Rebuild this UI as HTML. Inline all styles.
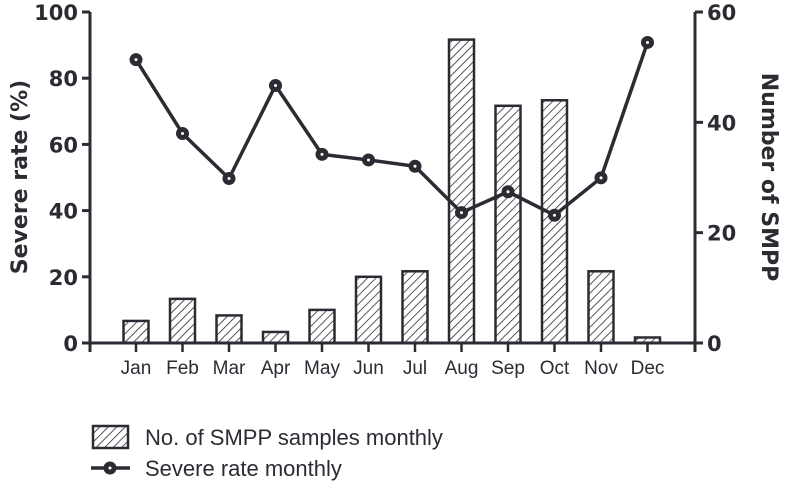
<!DOCTYPE html>
<html><head><meta charset="utf-8"><style>
html,body{margin:0;padding:0;background:#fff}
svg{display:block;font-family:"DejaVu Sans","Liberation Sans",sans-serif}
</style></head><body>
<svg id="chart" width="786" height="490" viewBox="0 0 786 490">
<defs><pattern id="hatch" patternUnits="userSpaceOnUse" width="6" height="6" patternTransform="rotate(45)"><rect width="6" height="6" fill="#fff"/><line x1="0" y1="0" x2="0" y2="6" stroke="#2b2b33" stroke-width="1.6"/></pattern></defs>
<g id="bars"></g><g id="line"></g><g id="axes"></g>
<text x="0" y="0" transform="translate(27,177) rotate(-90)" text-anchor="middle" font-size="22" font-weight="bold" fill="#2b2b33">Severe rate (%)</text>
<text x="0" y="0" transform="translate(762,177) rotate(90)" text-anchor="middle" font-size="22" font-weight="bold" fill="#2b2b33">Number of SMPP</text>
<g>
<rect x="93" y="426" width="35" height="22" fill="url(#hatch)" stroke="#2b2b33" stroke-width="2.5"/>
<text x="145" y="445" font-size="22" font-family="Liberation Sans, sans-serif" fill="#2b2b33">No. of SMPP samples monthly</text></g>
<g>
<line x1="91" y1="468" x2="130" y2="468" stroke="#2b2b33" stroke-width="3.5"/>
<circle cx="110" cy="468" r="6.5" fill="#2b2b33"/>
<circle cx="110" cy="468" r="1.5" fill="#fff"/>
<text x="145" y="476" font-size="22" font-family="Liberation Sans, sans-serif" fill="#2b2b33">Severe rate monthly</text></g>
</svg>
<script>
const months=["Jan","Feb","Mar","Apr","May","Jun","Jul","Aug","Sep","Oct","Nov","Dec"];
const counts=[4,8,5,2,6,12,13,55,43,44,13,1];
const rates=[85.6,63.3,49.7,77.8,57,55.3,53.4,39.4,45.7,38.6,49.9,90.8];
const leftTicks=[0,20,40,60,80,100];
const rightTicks=[0,20,40,60];
const NS="http://www.w3.org/2000/svg";
const X0=90,X1=695,Y0=343,Y1=12;
const xc=i=>136+i*46.5;
const yL=v=>Y0-(v/100)*(Y0-Y1);
const yR=v=>Y0-(v/60)*(Y0-Y1);
function mk(t,a,p){const e=document.createElementNS(NS,t);for(const k in a)e.setAttribute(k,a[k]);p.appendChild(e);return e;}
const C="#2b2b33";
const bars=document.getElementById('bars'),line=document.getElementById('line'),axes=document.getElementById('axes');
counts.forEach((v,i)=>{const r=mk('rect',{x:xc(i)-12.5,y:yR(v),width:25,height:Y0-yR(v),fill:'url(#hatch)',stroke:C,'stroke-width':2.5},bars);

});
const pl=mk('polyline',{points:rates.map((v,i)=>xc(i)+','+yL(v)).join(' '),fill:'none',stroke:C,'stroke-width':3.5},line);


rates.forEach((v,i)=>{const c=mk('circle',{cx:xc(i),cy:yL(v),r:6.5,fill:C},line);


mk('circle',{cx:xc(i),cy:yL(v),r:1.5,fill:'#fff'},line);});
mk('line',{x1:X0,y1:Y1,x2:X0,y2:352,stroke:C,'stroke-width':3},axes);
mk('line',{x1:X1,y1:Y1,x2:X1,y2:352,stroke:C,'stroke-width':3},axes);
mk('line',{x1:X0,y1:Y0,x2:X1,y2:Y0,stroke:C,'stroke-width':3},axes);
leftTicks.forEach(v=>{mk('line',{x1:X0-8,y1:yL(v),x2:X0,y2:yL(v),stroke:C,'stroke-width':3},axes);
const t=mk('text',{x:X0-12,y:yL(v)+8,'text-anchor':'end','font-size':21,'font-weight':'bold',fill:C},axes);t.textContent=v;

});
rightTicks.forEach(v=>{mk('line',{x1:X1,y1:yR(v),x2:X1+8,y2:yR(v),stroke:C,'stroke-width':3},axes);
const t=mk('text',{x:X1+12,y:yR(v)+8,'text-anchor':'start','font-size':21,'font-weight':'bold',fill:C},axes);t.textContent=v;

});
months.forEach((m,i)=>{mk('line',{x1:xc(i),y1:Y0,x2:xc(i),y2:352,stroke:C,'stroke-width':2.5},axes);
const t=mk('text',{x:xc(i),y:374,'text-anchor':'middle','font-size':19,'font-family':'Liberation Sans, sans-serif',fill:C},axes);t.textContent=m;

});
</script>
</body></html>
